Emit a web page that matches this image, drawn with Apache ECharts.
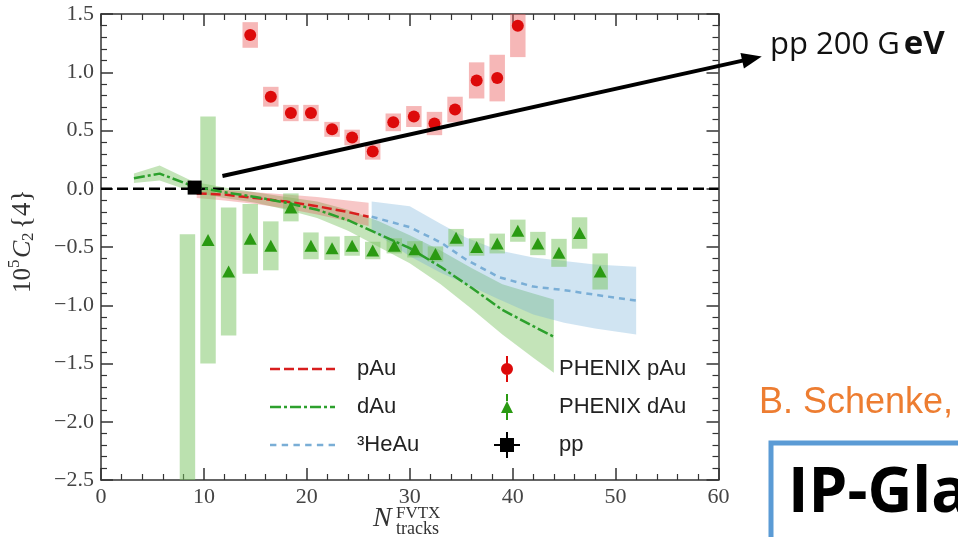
<!DOCTYPE html>
<html><head><meta charset="utf-8">
<script src="https://cdn.jsdelivr.net/npm/echarts@6/dist/echarts.min.js"></script>
<style>html,body{margin:0;padding:0;background:#fff}#c{width:958px;height:537px}</style>
</head><body><div id="c"></div>
<script>
// ---- axis ticks ----
const xTickValues = [0, 10, 20, 30, 40, 50, 60];
const yTickValues = [-2.5, -2.0, -1.5, -1.0, -0.5, 0.0, 0.5, 1.0, 1.5];

// ---- PHENIX pAu (points + systematic half-heights) ----
const pAuX   = [14.5, 16.5, 18.45, 20.4, 22.45, 24.4, 26.4, 28.4, 30.4, 32.4, 34.4, 36.5, 38.5, 40.5];
const pAuY   = [1.32, 0.79, 0.65, 0.65, 0.51, 0.44, 0.32, 0.57, 0.62, 0.56, 0.68, 0.93, 0.95, 1.40];
const pAuSys = [0.11, 0.085, 0.07, 0.07, 0.064, 0.067, 0.07, 0.076, 0.09, 0.1, 0.11, 0.155, 0.2, 0.27];

// ---- PHENIX dAu ----
const dAuX   = [8.4, 10.4, 12.4, 14.5, 16.5, 18.45, 20.4, 22.45, 24.4, 26.4, 28.5, 30.5, 32.5, 34.5, 36.5, 38.5, 40.5, 42.45, 44.5, 46.5, 48.5];
const dAuY   = [-2.7, -0.44, -0.71, -0.43, -0.49, -0.16, -0.49, -0.51, -0.49, -0.53, -0.49, -0.52, -0.56, -0.42, -0.50, -0.47, -0.36, -0.47, -0.55, -0.38, -0.71];
const dAuSys = [2.31, 1.06, 0.55, 0.3, 0.21, 0.12, 0.115, 0.1, 0.085, 0.075, 0.065, 0.07, 0.065, 0.075, 0.075, 0.085, 0.095, 0.1, 0.12, 0.135, 0.155];

// ---- pp point ----
const ppX = [9.1];
const ppY = [0.01];

// ---- IP-Glasma model curves ----
const pAuModelX  = [9.3, 12, 15, 18, 21, 24, 26];
const pAuModelY  = [-0.04, -0.05, -0.08, -0.11, -0.15, -0.20, -0.24];
const pAuModelHi = [0.0, -0.01, -0.03, -0.05, -0.07, -0.10, -0.12];
const pAuModelLo = [-0.08, -0.10, -0.13, -0.17, -0.22, -0.28, -0.32];

const dAuModelX  = [3.2, 5.7, 9, 12, 15, 18, 21, 24, 27, 30, 33, 36, 39, 42, 44];
const dAuModelY  = [0.09, 0.13, 0.02, -0.03, -0.07, -0.12, -0.18, -0.27, -0.39, -0.51, -0.67, -0.85, -1.04, -1.18, -1.27];
const dAuModelHi = [0.13, 0.20, 0.06, 0.01, -0.03, -0.07, -0.11, -0.18, -0.28, -0.40, -0.53, -0.68, -0.82, -0.90, -0.95];
const dAuModelLo = [0.05, 0.07, -0.03, -0.08, -0.12, -0.18, -0.25, -0.36, -0.50, -0.64, -0.82, -1.03, -1.25, -1.45, -1.58];

const heAuModelX  = [26.3, 30, 33, 35.5, 38.7, 42, 45, 48, 52];
const heAuModelY  = [-0.24, -0.33, -0.46, -0.61, -0.76, -0.84, -0.87, -0.91, -0.96];
const heAuModelHi = [-0.11, -0.15, -0.30, -0.42, -0.53, -0.59, -0.62, -0.65, -0.67];
const heAuModelLo = [-0.36, -0.58, -0.72, -0.82, -0.95, -1.08, -1.15, -1.20, -1.25];

// ---- zero reference line ----
const zeroLineX = [0, 60];
const zeroLineY = [0, 0];

// ---- annotation arrow (data coordinates) ----
const arrowFrom = [11.8, 0.11];
const arrowTo   = [64.2, 1.136];

const BOX_HW = 0.75;

const chart = echarts.init(document.getElementById('c'), null, {renderer: 'canvas'});

function pairs(xs, ys) { return xs.map((x, i) => [x, ys[i]]); }

function bandSeries(xs, hi, lo, color) {
  return {
    type: 'custom', clip: true, silent: true, z: 1,
    data: [[xs[0], hi[0]]],
    renderItem: (params, api) => {
      const top = xs.map((x, i) => api.coord([x, hi[i]]));
      const bot = xs.map((x, i) => api.coord([x, lo[i]])).reverse();
      return {type: 'polygon', shape: {points: top.concat(bot)}, style: {fill: color}};
    }
  };
}

function boxSeries(xs, ys, hs, color) {
  return {
    type: 'custom', clip: true, silent: true, z: 2,
    data: xs.map((x, i) => [x, ys[i], hs[i]]),
    encode: {x: 0, y: 1},
    renderItem: (params, api) => {
      const x = api.value(0), y = api.value(1), h = api.value(2);
      const p1 = api.coord([x - BOX_HW, y + h]);
      const p2 = api.coord([x + BOX_HW, y - h]);
      return {type: 'rect', shape: {x: p1[0], y: p1[1], width: p2[0] - p1[0], height: p2[1] - p1[1]}, style: {fill: color}};
    }
  };
}

// dashed legend icons built from a dash pattern
function dashIcon(pattern, total, h) {
  let d = '', x = 0, k = 0;
  while (x < total) {
    const seg = pattern[k % pattern.length];
    if (k % 2 === 0) {
      const e = Math.min(x + seg, total);
      d += 'M' + x + ',0H' + e + 'V' + h + 'H' + x + 'Z ';
    }
    x += seg; k++;
  }
  return 'path://' + d.trim();
}

const axisColor = '#333';
const serif = '"Liberation Serif", "DejaVu Serif", serif';

function xAx(pos, labels) {
  return {
    type: 'value', min: 0, max: 60, interval: 10, position: pos,
    axisLine: {show: true, onZero: false, lineStyle: {color: axisColor, width: 1.5}},
    axisTick: {show: true, inside: true, length: 12, lineStyle: {color: axisColor, width: 1.5}},
    minorTick: {show: true, splitNumber: 5, length: 6, lineStyle: {color: axisColor, width: 1.2}},
    splitLine: {show: false},
    axisLabel: {show: labels, color: '#444', fontFamily: serif, fontSize: 22, margin: 6,
      formatter: v => String(v)}
  };
}
function yAx(pos, labels) {
  return {
    type: 'value', min: -2.5, max: 1.5, interval: 0.5, position: pos,
    axisLine: {show: true, onZero: false, lineStyle: {color: axisColor, width: 1.5}},
    axisTick: {show: true, inside: true, length: 12, lineStyle: {color: axisColor, width: 1.5}},
    minorTick: {show: true, splitNumber: 5, length: 6, lineStyle: {color: axisColor, width: 1.2}},
    splitLine: {show: false},
    axisLabel: {show: labels, color: '#444', fontFamily: serif, fontSize: 22, margin: 7,
      formatter: v => (v < 0 ? '\u2212' : '') + Math.abs(v).toFixed(1)}
  };
}

const option = {
  animation: false,
  backgroundColor: '#fff',
  grid: {left: 101, right: 239.5, top: 14, bottom: 57, containLabel: false},
  xAxis: [xAx('bottom', true), xAx('top', false)],
  yAxis: [yAx('left', true), yAx('right', false)],
  legend: [
    {
      data: [
        {name: 'pAu', icon: dashIcon([10, 4], 65, 2.5)},
        {name: 'dAu', icon: dashIcon([11, 3, 3, 3], 65, 2.5)},
        {name: '\u00b3HeAu', icon: dashIcon([6, 5], 65, 2.5)}
      ],
      orient: 'vertical', left: 270, top: 358, padding: 0,
      itemWidth: 65, itemHeight: 14, itemGap: 16, selectedMode: false,
      textStyle: {fontFamily: '"Liberation Sans", Arial, sans-serif', fontSize: 22, color: '#222', padding: [0, 0, 0, 17]}
    },
    {
      data: [
        {name: 'PHENIX pAu', icon: 'path://M12,0H14V8H12Z M12,18H14V26H12Z M7,13A6,6 0 1,1 19,13A6,6 0 1,1 7,13Z'},
        {name: 'PHENIX dAu', icon: 'path://M12,0H14V7H12Z M12,19H14V26H12Z M13,7L19,19H7Z'},
        {name: 'pp', icon: 'path://M6,6H20V20H6Z M0,12H6V14H0Z M20,12H26V14H20Z M12,0H14V6H12Z M12,20H14V26H12Z'}
      ],
      orient: 'vertical', left: 494, top: 356, padding: 0,
      itemWidth: 26, itemHeight: 26, itemGap: 12, selectedMode: false,
      textStyle: {fontFamily: '"Liberation Sans", Arial, sans-serif', fontSize: 22, color: '#222', padding: [0, 0, 0, 34]}
    }
  ],
  series: [
    bandSeries(dAuModelX, dAuModelHi, dAuModelLo, 'rgba(100,185,70,0.38)'),
    bandSeries(heAuModelX, heAuModelHi, heAuModelLo, 'rgba(110,170,215,0.32)'),
    bandSeries(pAuModelX, pAuModelHi, pAuModelLo, 'rgba(228,70,70,0.30)'),
    boxSeries(pAuX, pAuY, pAuSys, 'rgba(235,95,95,0.45)'),
    boxSeries(dAuX, dAuY, dAuSys, 'rgba(120,195,95,0.5)'),
    {
      type: 'line', name: 'zero', data: pairs(zeroLineX, zeroLineY), symbol: 'none', z: 3, silent: true,
      lineStyle: {color: '#000', width: 2.5, type: [11, 5]}
    },
    {
      type: 'line', name: 'pAu', data: pairs(pAuModelX, pAuModelY), symbol: 'none', z: 4,
      itemStyle: {color: '#d81e1e'}, lineStyle: {color: '#d81e1e', width: 2.5, type: [10, 4]}
    },
    {
      type: 'line', name: 'dAu', data: pairs(dAuModelX, dAuModelY), symbol: 'none', z: 4,
      itemStyle: {color: '#2ca02c'}, lineStyle: {color: '#2ca02c', width: 2.5, type: [11, 3, 3, 3]}
    },
    {
      type: 'line', name: '\u00b3HeAu', data: pairs(heAuModelX, heAuModelY), symbol: 'none', z: 4,
      itemStyle: {color: '#7aaed6'}, lineStyle: {color: '#7aaed6', width: 2.5, type: [6, 5]}
    },
    {
      type: 'scatter', name: 'PHENIX pAu', data: pairs(pAuX, pAuY), symbol: 'circle', symbolSize: 12, z: 5,
      itemStyle: {color: '#dd0a0a', opacity: 1}
    },
    {
      type: 'scatter', name: 'PHENIX dAu', data: pairs(dAuX, dAuY), symbol: 'triangle', symbolSize: [13, 12], z: 5,
      itemStyle: {color: '#2a9a12', opacity: 1}
    },
    {
      type: 'scatter', name: 'pp', data: pairs(ppX, ppY), symbol: 'rect', symbolSize: 14, z: 6,
      itemStyle: {color: '#000', opacity: 1}
    }
  ]
};
chart.setOption(option);

// ---- annotations (text + arrow) ----
const a0 = chart.convertToPixel({gridIndex: 0}, arrowFrom);
const a1 = chart.convertToPixel({gridIndex: 0}, arrowTo);
const dx = a1[0] - a0[0], dy = a1[1] - a0[1];
const len = Math.sqrt(dx * dx + dy * dy);
const ux = dx / len, uy = dy / len;
const headLen = 20, headHalf = 8;
const bx = a1[0] - ux * headLen, by = a1[1] - uy * headLen;

const yLabelFont = serif;
chart.setOption({
  graphic: [
    {type: 'line', z: 100, shape: {x1: a0[0], y1: a0[1], x2: bx + ux * 4, y2: by + uy * 4},
      style: {stroke: '#000', lineWidth: 4}},
    {type: 'polygon', z: 100, shape: {points: [[a1[0], a1[1]], [bx - uy * headHalf, by + ux * headHalf], [bx + uy * headHalf, by - ux * headHalf]]},
      style: {fill: '#000'}},
    {type: 'text', x: 770, y: 45, z: 100, style: {
      text: '{n|pp 200 G}{b|eV}', verticalAlign: 'middle', textVerticalAlign: 'middle',
      rich: {
        n: {fontFamily: '"Open Sans", "Noto Sans", sans-serif', fontSize: 31, fill: '#111', color: '#111'},
        b: {fontFamily: '"Open Sans", "Noto Sans", sans-serif', fontSize: 33, fontWeight: 'bold', fill: '#111', color: '#111', padding: [0, 0, 0, 4]}
      }}},
    {type: 'text', x: 759, y: 403, z: 100, style: {
      text: 'B. Schenke,', fill: '#ED7D31', font: '36px "Liberation Sans", Arial, sans-serif',
      verticalAlign: 'middle', textVerticalAlign: 'middle'}},
    {type: 'rect', z: 100, shape: {x: 771, y: 443, width: 220, height: 130},
      style: {fill: 'none', stroke: '#5B9BD5', lineWidth: 5}},
    {type: 'text', x: 788, y: 494, z: 100, style: {
      text: 'IP-Gla', fill: '#000', font: 'bold 62px "Open Sans", "Noto Sans", sans-serif',
      verticalAlign: 'middle', textVerticalAlign: 'middle'}},
    // x-axis title
    {type: 'text', x: 373, y: 519, z: 100, style: {text: 'N', fill: '#333', font: 'italic 28px ' + yLabelFont, verticalAlign: 'middle', textVerticalAlign: 'middle'}},
    {type: 'text', x: 396, y: 514, z: 100, style: {text: 'FVTX', fill: '#333', font: '17px ' + yLabelFont, verticalAlign: 'middle', textVerticalAlign: 'middle'}},
    {type: 'text', x: 396, y: 529, z: 100, style: {text: 'tracks', fill: '#333', font: '18px ' + yLabelFont, verticalAlign: 'middle', textVerticalAlign: 'middle'}},
    // y-axis title (rotated)
    {type: 'group', x: 23, y: 293, rotation: Math.PI / 2, z: 100, children: [
      {type: 'text', x: 0, y: 0, style: {text: '10', fill: '#333', font: '25px ' + yLabelFont, verticalAlign: 'middle', textVerticalAlign: 'middle'}},
      {type: 'text', x: 25, y: -8, style: {text: '5', fill: '#333', font: '17px ' + yLabelFont, verticalAlign: 'middle', textVerticalAlign: 'middle'}},
      {type: 'text', x: 35, y: 0, style: {text: 'C', fill: '#333', font: 'italic 26px ' + yLabelFont, verticalAlign: 'middle', textVerticalAlign: 'middle'}},
      {type: 'text', x: 52, y: 6, style: {text: '2', fill: '#333', font: '17px ' + yLabelFont, verticalAlign: 'middle', textVerticalAlign: 'middle'}},
      {type: 'text', x: 64, y: 0, style: {text: '{4}', fill: '#333', font: '27px ' + yLabelFont, verticalAlign: 'middle', textVerticalAlign: 'middle'}}
    ]}
  ]
});
</script>
</body></html>
